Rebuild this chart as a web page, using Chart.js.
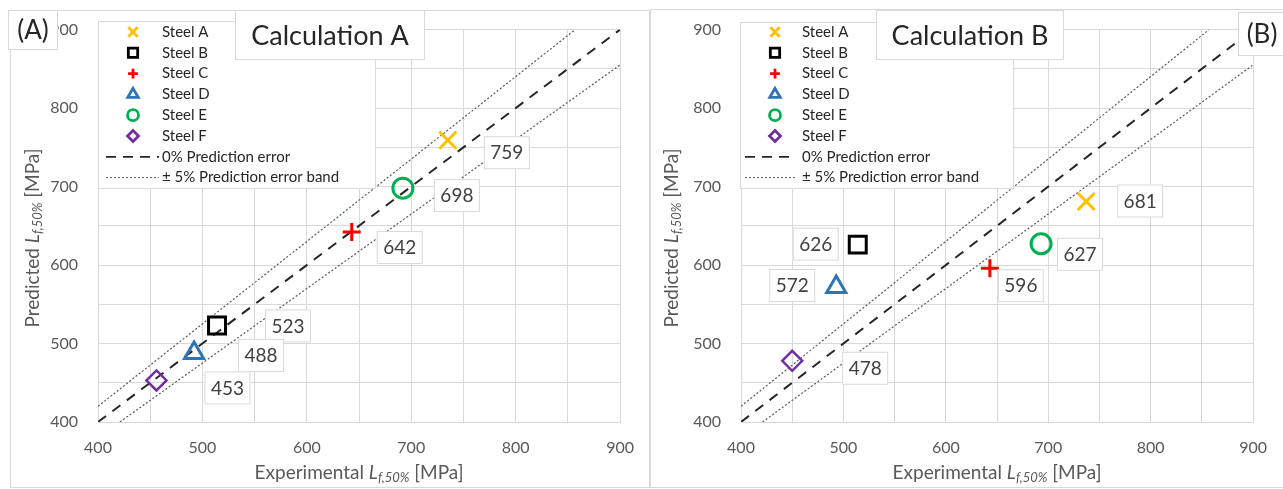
<!DOCTYPE html>
<html>
<head>
<meta charset="utf-8">
<script src="https://cdn.jsdelivr.net/npm/chart.js@4.4.1/dist/chart.umd.min.js"></script>
<style>
  html, body { margin: 0; padding: 0; background: #fff; }
  #wrap { position: relative; width: 1283px; height: 489px; overflow: hidden; }
  #cA { position: absolute; left: 0; top: 0; }
  #cB { position: absolute; left: 650px; top: 0; }
</style>
</head>
<body>
<div id="wrap">
  <canvas id="cA" width="650" height="489"></canvas>
  <canvas id="cB" width="633" height="489"></canvas>
</div>
<script>
// data
const steels = ['Steel A', 'Steel B', 'Steel C', 'Steel D', 'Steel E', 'Steel F'];
const expA  = [735, 514, 643, 492, 692, 456];
const predA = [759, 523, 642, 488, 698, 453];
const expB  = [737, 514, 643, 493, 693, 450];
const predB = [681, 626, 596, 572, 627, 478];

// reference lines (0% error and the +/-5% band), end points
const idealLine = [[400, 400], [900, 900]];
const upperBand = [[400, 420], [857, 900]];
const lowerBand = [[421, 400], [900, 855]];

const lineNames = ['0% Prediction error', '\u00b1 5% Prediction error band'];

// marker look per steel
const markers = [
  { style: 'crossRot', color: '#FFC000', r: 12, w: 3 },
  { style: 'rect',     color: '#000000', r: 12, w: 3 },
  { style: 'cross',    color: '#FF0000', r: 9,  w: 3 },
  { style: 'triangle', color: '#2E75B6', r: 11, w: 3 },
  { style: 'circle',   color: '#00B050', r: 10, w: 3 },
  { style: 'rectRot',  color: '#7030A0', r: 10, w: 2.5 }
];

const FONT = 'Lato, "Open Sans", sans-serif';
const GRID = '#d9d9d9';
const TXT = '#595959';

function pts(arr) { return arr.map(p => ({ x: p[0], y: p[1] })); }

function buildDatasets(xs, ys) {
  const ds = steels.map((name, i) => ({
    label: name,
    data: [{ x: xs[i], y: ys[i] }],
    pointStyle: markers[i].style,
    pointRadius: markers[i].r,
    pointHoverRadius: markers[i].r,
    pointBorderWidth: markers[i].w,
    borderColor: markers[i].color,
    backgroundColor: 'rgba(0,0,0,0)',
    showLine: false,
    order: 0
  }));
  ds.push({ label: lineNames[0], data: pts(idealLine), showLine: true, borderColor: '#262626',
    borderWidth: 2, borderDash: [10, 8], pointRadius: 0, order: 5 });
  ds.push({ label: lineNames[1], data: pts(upperBand), showLine: true, borderColor: '#595959',
    borderWidth: 1.2, borderDash: [2, 2], pointRadius: 0, order: 5 });
  ds.push({ label: '', data: pts(lowerBand), showLine: true, borderColor: '#595959',
    borderWidth: 1.2, borderDash: [2, 2], pointRadius: 0, order: 5 });
  return ds;
}

function box(ctx, x, y, w, h) {
  ctx.save();
  ctx.fillStyle = '#fff';
  ctx.strokeStyle = GRID;
  ctx.lineWidth = 1;
  ctx.fillRect(x, y, w, h);
  ctx.strokeRect(x + 0.5, y + 0.5, w - 1, h - 1);
  ctx.restore();
}

// axis title with italic L and subscript f,50%
function axisTitle(ctx, before, cx, cy, rotate) {
  const parts = [
    [before, '19px ' + FONT, 0],
    ['L', 'italic 19px ' + FONT, 0],
    ['f,50%', 'italic 13px ' + FONT, 5],
    [' [MPa]', '19px ' + FONT, 0]
  ];
  ctx.save();
  let total = 0;
  parts.forEach(p => { ctx.font = p[1]; total += ctx.measureText(p[0]).width; });
  ctx.translate(cx, cy);
  if (rotate) ctx.rotate(-Math.PI / 2);
  ctx.fillStyle = TXT;
  ctx.textBaseline = 'middle';
  ctx.textAlign = 'left';
  let x = -total / 2;
  parts.forEach(p => {
    ctx.font = p[1];
    ctx.fillText(p[0], x, p[2]);
    x += ctx.measureText(p[0]).width;
  });
  ctx.restore();
}

const deco = {
  id: 'deco',
  afterDraw(chart, args, o) {
    const ctx = chart.ctx;
    ctx.save();

    // panel frame
    ctx.strokeStyle = GRID;
    ctx.lineWidth = 1;
    ctx.strokeRect(o.frame[0] + 0.5, o.frame[1] + 0.5, o.frame[2], o.frame[3]);

    // value labels next to the markers
    ctx.font = '19px ' + FONT;
    ctx.textAlign = 'center';
    ctx.textBaseline = 'middle';
    for (let i = 0; i < steels.length; i++) {
      const el = chart.getDatasetMeta(i).data[0];
      const lx = el.x + o.shift[i][0], ly = el.y + o.shift[i][1];
      box(ctx, lx - 23, ly - 16, 46, 33);
      ctx.fillStyle = '#404040';
      ctx.fillText(String(o.values[i]), lx, ly + 1);
    }

    // legend
    const L = o.legend;
    box(ctx, L.x, L.y, L.w, L.h);
    ctx.font = '15px ' + FONT;
    ctx.textAlign = 'left';
    ctx.fillStyle = '#262626';
    for (let i = 0; i < steels.length; i++) {
      const y = L.row0 + i * 20.8;
      const m = markers[i];
      ctx.save();
      ctx.strokeStyle = m.color;
      ctx.fillStyle = 'rgba(0,0,0,0)';
      ctx.lineWidth = 2.8;
      Chart.helpers.drawPoint(ctx, { pointStyle: m.style, radius: m.r * 0.55, rotation: 0, borderWidth: 2.8 }, L.mx, y);
      ctx.restore();
      ctx.fillText(steels[i], L.tx, y);
    }
    const yl1 = L.row0 + 6 * 20.8, yl2 = L.row0 + 7 * 20.8;
    ctx.save();
    ctx.strokeStyle = '#262626';
    ctx.lineWidth = 1.8;
    ctx.setLineDash([10, 7]);
    ctx.beginPath(); ctx.moveTo(L.lx0, yl1); ctx.lineTo(L.lx1, yl1); ctx.stroke();
    ctx.strokeStyle = '#595959';
    ctx.lineWidth = 1;
    ctx.setLineDash([2, 2]);
    ctx.beginPath(); ctx.moveTo(L.lx0, yl2); ctx.lineTo(L.lx1, yl2); ctx.stroke();
    ctx.restore();
    ctx.fillText(lineNames[0], L.tx, yl1);
    ctx.fillText(lineNames[1], L.tx, yl2);

    // title box
    const T = o.title;
    box(ctx, T.x, T.y, T.w, T.h);
    ctx.font = '27px ' + FONT;
    ctx.textAlign = 'center';
    ctx.fillStyle = '#262626';
    ctx.fillText(T.text, T.x + T.w / 2, T.y + T.h / 2 + 1);

    // panel tag
    const G = o.tag;
    box(ctx, G.x, G.y, G.w, G.h);
    ctx.font = '26px ' + FONT;
    ctx.fillText(G.text, G.cx, G.y + G.h / 2 + 1);

    // axis titles
    const ca = chart.chartArea;
    axisTitle(ctx, 'Experimental ', (ca.left + ca.right) / 2, 473, false);
    axisTitle(ctx, 'Predicted ', o.yTitleX, 238, true);

    ctx.restore();
  }
};

function makeChart(id, xs, ys, yAxisW, padRight, deco_opts) {
  const tickOpts = {
    stepSize: 50,
    autoSkip: false,
    maxRotation: 0,
    color: TXT,
    font: { family: FONT, size: 16 },
    callback: v => (v % 100 === 0 ? String(v) : '')
  };
  return new Chart(document.getElementById(id), {
    type: 'scatter',
    data: { datasets: buildDatasets(xs, ys) },
    options: {
      responsive: false,
      animation: false,
      layout: { padding: { left: 0, top: 22, right: padRight, bottom: 0 } },
      plugins: { legend: { display: false }, tooltip: { enabled: false }, deco: deco_opts },
      scales: {
        x: {
          min: 400, max: 900,
          ticks: Object.assign({ padding: 16 }, tickOpts),
          grid: { color: GRID, drawTicks: false },
          border: { color: GRID },
          afterFit: s => { s.height = 67; }
        },
        y: {
          min: 400, max: 900,
          ticks: Object.assign({ padding: 20 }, tickOpts),
          grid: { color: GRID, drawTicks: false },
          border: { color: GRID },
          afterFit: s => { s.width = yAxisW; }
        }
      }
    },
    plugins: [deco]
  });
}

makeChart('cA', expA, predA, 98, 29, {
  values: predA,
  shift: [[59, 12], [71, 0], [48, 15], [67, 2], [54, 7], [71, 7]],
  frame: [10, 10, 639, 477],
  legend: { x: 98, y: 21, w: 278, h: 168, mx: 133, tx: 162, row0: 32, lx0: 106, lx1: 159 },
  title: { x: 235, y: 10, w: 190, h: 50, text: 'Calculation A' },
  tag: { x: 8, y: 10, w: 50, h: 40, cx: 33, text: '(A)' },
  yTitleX: 33
});

makeChart('cB', expB, predB, 91, 21, {
  values: predB,
  shift: [[54, -1], [-42, -1], [31, 17], [-44, -2], [39, 10], [73, 7]],
  frame: [0, 9, 660, 478],
  legend: { x: 90, y: 22, w: 274, h: 167, mx: 125, tx: 152, row0: 32, lx0: 95, lx1: 145 },
  title: { x: 226, y: 10, w: 188, h: 50, text: 'Calculation B' },
  tag: { x: 588, y: 12, w: 50, h: 44, cx: 612, text: '(B)' },
  yTitleX: 22
});
</script>
</body>
</html>
